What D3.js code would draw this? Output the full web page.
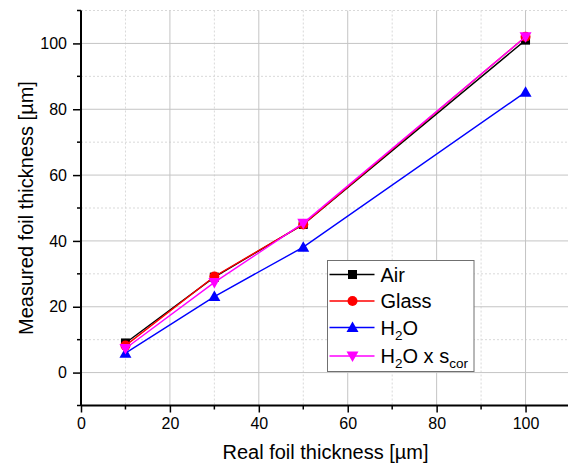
<!DOCTYPE html>
<html lang="en">
<head>
    <meta charset="UTF-8">
    <title>Foil thickness</title>
    <script src="https://cdnjs.cloudflare.com/ajax/libs/d3/7.8.5/d3.min.js"></script>
    <style>
        body { margin: 0; background: #fff; }
        svg { display: block; font-family: "Liberation Sans", Arial, sans-serif; }
    </style>
</head>
<body>
<div id="chart"></div>
<script>
    // data
    var realThickness = [10, 30, 50, 100];
    var airValues = [9, 29, 45, 101];
    var glassValues = [8.2, 29.2, 45, 102];
    var waterValues = [5.9, 23.1, 38.1, 85.2];
    var waterCorValues = [7.3, 27.4, 45.4, 102];
    var xTicks = [0, 20, 40, 60, 80, 100];
    var yTicks = [0, 20, 40, 60, 80, 100];

    var series = [
        { name: "Air", values: airValues, color: "#000000", marker: "square" },
        { name: "Glass", values: glassValues, color: "#ff0000", marker: "circle" },
        { name: "H2O", values: waterValues, color: "#0000ff", marker: "up" },
        { name: "H2Ocor", values: waterCorValues, color: "#ff00ff", marker: "down" }
    ];

    var w = 568, h = 468;
    // note: "top" is reserved on window, so plot edges get their own names
    var plotLeft = 81, plotRight = 570, plotTop = 10.5, plotBottom = 405.5;

    var x = d3.scaleLinear().domain([0, 110]).range([plotLeft, plotRight]);
    var y = d3.scaleLinear().domain([-10, 110]).range([plotBottom, plotTop]);

    var svg = d3.select("#chart").append("svg")
        .attr("width", w)
        .attr("height", h);

    // minor grid (dashed)
    var grid = svg.append("g");
    grid.selectAll(".xminor")
        .data(d3.range(10, 111, 20))
        .enter().append("line")
        .attr("x1", d => x(d)).attr("x2", d => x(d))
        .attr("y1", plotTop).attr("y2", plotBottom)
        .attr("stroke", "#d9d9d9").attr("stroke-dasharray", "2,2");
    grid.selectAll(".yminor")
        .data(d3.range(-10, 111, 20))
        .enter().append("line")
        .attr("x1", plotLeft).attr("x2", plotRight)
        .attr("y1", d => y(d)).attr("y2", d => y(d))
        .attr("stroke", "#d9d9d9").attr("stroke-dasharray", "2,2");
    // major grid
    grid.selectAll(".xmajor")
        .data(xTicks.filter(d => d > 0))
        .enter().append("line")
        .attr("x1", d => x(d)).attr("x2", d => x(d))
        .attr("y1", plotTop).attr("y2", plotBottom)
        .attr("stroke", "#c4c4c4");
    grid.selectAll(".ymajor")
        .data(yTicks)
        .enter().append("line")
        .attr("x1", plotLeft).attr("x2", plotRight)
        .attr("y1", d => y(d)).attr("y2", d => y(d))
        .attr("stroke", "#c4c4c4");

    // axes
    var xAxis = d3.axisBottom(x).tickValues(xTicks).tickSize(7).tickPadding(5);
    var yAxis = d3.axisLeft(y).tickValues(yTicks).tickSize(8).tickPadding(6);

    var gx = svg.append("g").attr("transform", "translate(0," + plotBottom + ")").call(xAxis);
    var gy = svg.append("g").attr("transform", "translate(" + plotLeft + ",0)").call(yAxis);

    [gx, gy].forEach(function (g) {
        g.select(".domain").attr("stroke", "#000").attr("stroke-width", 2);
        g.selectAll(".tick line").attr("stroke", "#000").attr("stroke-width", 1.5);
        g.selectAll(".tick text").attr("font-size", 16).attr("fill", "#000")
            .attr("font-family", "Liberation Sans, Arial, sans-serif");
    });
    gy.select(".domain").attr("d", "M0," + plotBottom + "V" + plotTop);
    gx.select(".domain").attr("d", "M" + plotLeft + ",0H" + plotRight);

    // minor ticks
    gx.selectAll(".minor")
        .data(d3.range(10, 111, 20))
        .enter().append("line")
        .attr("x1", d => x(d)).attr("x2", d => x(d))
        .attr("y1", 0).attr("y2", 4)
        .attr("stroke", "#000").attr("stroke-width", 1.5);
    gy.selectAll(".minor")
        .data(d3.range(-10, 111, 20))
        .enter().append("line")
        .attr("x1", 0).attr("x2", -4)
        .attr("y1", d => y(d)).attr("y2", d => y(d))
        .attr("stroke", "#000").attr("stroke-width", 1.5);

    // axis titles
    svg.append("text")
        .attr("x", (plotLeft + plotRight) / 2)
        .attr("y", 459)
        .attr("text-anchor", "middle")
        .attr("font-size", 20)
        .text("Real foil thickness [µm]");
    svg.append("text")
        .attr("transform", "translate(33," + (plotTop + plotBottom) / 2 + ") rotate(-90)")
        .attr("text-anchor", "middle")
        .attr("font-size", 20)
        .text("Measured foil thickness [µm]");

    // marker shapes
    function markerPath(type) {
        if (type === "square") return "M-4.5,-4.5H4.5V4.5H-4.5Z";
        if (type === "up") return "M0,-6L6,4.5H-6Z";
        if (type === "down") return "M0,6L6,-4.5H-6Z";
        return null;
    }
    function drawMarker(g, type, color) {
        if (type === "circle") {
            g.append("circle").attr("r", 5).attr("fill", color);
        } else {
            g.append("path").attr("d", markerPath(type)).attr("fill", color);
        }
    }

    var line = d3.line()
        .x((d, i) => x(realThickness[i]))
        .y(d => y(d));

    series.forEach(function (s) {
        var g = svg.append("g");
        g.append("path")
            .attr("d", line(s.values))
            .attr("fill", "none")
            .attr("stroke", s.color)
            .attr("stroke-width", 1.4);
        s.values.forEach(function (v, i) {
            var m = g.append("g").attr("transform", "translate(" + x(realThickness[i]) + "," + y(v) + ")");
            drawMarker(m, s.marker, s.color);
        });
    });

    // legend
    var lg = svg.append("g").attr("transform", "translate(327.5,260.5)");
    lg.append("rect")
        .attr("width", 146.5).attr("height", 111)
        .attr("fill", "#fff").attr("stroke", "#707070");
    series.forEach(function (s, i) {
        var yy = 14 + i * 26.5 + (i === 3 ? 2 : 0);
        var row = lg.append("g").attr("transform", "translate(0," + yy + ")");
        row.append("line")
            .attr("x1", 2).attr("x2", 47)
            .attr("stroke", s.color).attr("stroke-width", 1.4);
        drawMarker(row.append("g").attr("transform", "translate(25,0)"), s.marker, s.color);
        var t = row.append("text").attr("x", 53).attr("y", 7).attr("font-size", 20);
        if (s.name === "H2O" || s.name === "H2Ocor") {
            t.append("tspan").text("H");
            t.append("tspan").attr("font-size", 13.5).attr("dy", 5).text("2");
            t.append("tspan").attr("dy", -5).text(s.name === "H2O" ? "O" : "O x s");
            if (s.name === "H2Ocor") {
                t.append("tspan").attr("font-size", 13.5).attr("dy", 5).text("cor");
            }
        } else {
            t.text(s.name);
        }
    });
</script>
</body>
</html>
